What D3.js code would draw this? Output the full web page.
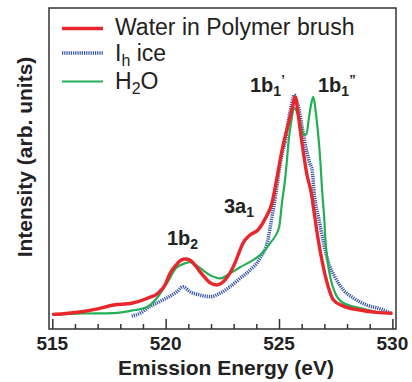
<!DOCTYPE html>
<html>
<head>
<meta charset="utf-8">
<script src="https://cdn.jsdelivr.net/npm/d3@7"></script>
<style>
  body { margin: 0; background: #fff; }
  svg { display: block; font-family: "Liberation Sans", Arial, sans-serif; }
</style>
</head>
<body>
<svg class="graph" width="412" height="382"></svg>
<script>
//======
// Data
//======

var xTicks = [515, 516, 517, 518, 519, 520, 521, 522, 523, 524, 525, 526, 527, 528, 529, 530];
var xTickLabels = [515, 520, 525, 530];

var brushEnergy = [515.0, 515.5, 516.3, 517.0, 517.7, 518.5, 519.2, 519.66, 519.97, 520.19, 520.46, 520.63, 520.85, 521.07, 521.3, 521.51, 521.75, 521.96, 522.25, 522.45, 522.62, 522.85, 523.06, 523.25, 523.41, 523.72, 524.07, 524.38, 524.69, 524.92, 525.05, 525.2, 525.41, 525.6, 525.71, 525.85, 526.0, 526.22, 526.44, 526.51, 526.73, 526.95, 527.17, 527.4, 527.84, 528.57, 529.31, 530.0];
var brushIntensity = [0.003, 0.006, 0.015, 0.028, 0.046, 0.054, 0.077, 0.10, 0.138, 0.19, 0.229, 0.248, 0.257, 0.252, 0.228, 0.199, 0.17, 0.148, 0.138, 0.145, 0.161, 0.195, 0.239, 0.29, 0.329, 0.367, 0.39, 0.44, 0.514, 0.635, 0.711, 0.787, 0.876, 0.955, 1.0, 0.917, 0.80, 0.65, 0.55, 0.50, 0.344, 0.222, 0.13, 0.069, 0.041, 0.023, 0.012, 0.008];

var iceEnergy = [518.5, 518.9, 519.2, 519.7, 520.2, 520.5, 520.77, 521.07, 521.51, 521.96, 522.4, 522.84, 523.28, 523.72, 524.16, 524.5, 524.69, 524.84, 524.99, 525.14, 525.29, 525.38, 525.5, 525.62, 525.67, 525.77, 525.87, 526.02, 526.24, 526.35, 526.46, 526.56, 526.75, 526.97, 527.17, 527.47, 527.84, 528.28, 528.87, 529.46, 529.9];
var iceIntensity = [-0.005, 0.01, 0.032, 0.06, 0.087, 0.107, 0.13, 0.107, 0.092, 0.084, 0.10, 0.13, 0.168, 0.206, 0.26, 0.34, 0.45, 0.541, 0.651, 0.743, 0.803, 0.87, 0.94, 0.995, 1.01, 0.986, 0.95, 0.862, 0.743, 0.697, 0.665, 0.55, 0.445, 0.33, 0.243, 0.174, 0.115, 0.078, 0.046, 0.028, 0.009];

var waterEnergy = [515.0, 516.3, 517.7, 518.5, 519.2, 519.66, 520.1, 520.46, 520.85, 521.07, 521.51, 521.96, 522.4, 522.84, 523.28, 523.72, 524.16, 524.65, 525.0, 525.13, 525.28, 525.35, 525.43, 525.55, 525.66, 525.75, 525.88, 526.01, 526.1, 526.21, 526.32, 526.41, 526.51, 526.61, 526.73, 526.82, 526.9, 527.0, 527.04, 527.12, 527.26, 527.48, 527.84, 528.57, 529.31, 530.0];
var waterIntensity = [0.002, 0.007, 0.009, 0.02, 0.038, 0.084, 0.153, 0.216, 0.237, 0.243, 0.216, 0.183, 0.168, 0.191, 0.219, 0.244, 0.275, 0.335, 0.40, 0.514, 0.634, 0.711, 0.803, 0.894, 0.95, 0.94, 0.904, 0.849, 0.826, 0.83, 0.904, 0.963, 1.0, 0.94, 0.826, 0.711, 0.573, 0.436, 0.358, 0.266, 0.174, 0.10, 0.055, 0.032, 0.014, 0.008];

var seriesNames = ["Water in Polymer brush", "I_h ice", "H_2O"];

//=======
// Chart
//=======

var svg = d3.select(".graph");

var x = d3.scaleLinear().domain([514.855, 530.16]).range([49, 396]);
var y = d3.scaleLinear().domain([-0.064, 1.408]).range([329, 8]);

function zip(xs, ys) {
  return xs.map(function (e, i) { return [e, ys[i]]; });
}

var line = d3.line()
  .x(function (d) { return x(d[0]); })
  .y(function (d) { return y(d[1]); })
  .curve(d3.curveMonotoneX);

var plot = svg.append("g");

plot.append("path")
  .datum(zip(iceEnergy, iceIntensity))
  .attr("d", line)
  .attr("fill", "none")
  .attr("stroke", "#3453a8")
  .attr("stroke-width", 3.5)
  .attr("stroke-dasharray", "1.2,1");

plot.append("path")
  .datum(zip(waterEnergy, waterIntensity))
  .attr("d", line)
  .attr("fill", "none")
  .attr("stroke", "#24ae55")
  .attr("stroke-width", 2.2);

plot.append("path")
  .datum(zip(brushEnergy, brushIntensity))
  .attr("d", line)
  .attr("fill", "none")
  .attr("stroke", "#e8262c")
  .attr("stroke-width", 3.4)
  .attr("stroke-linejoin", "round");

// frame
svg.append("rect")
  .attr("x", x.range()[0])
  .attr("y", y.range()[1])
  .attr("width", x.range()[1] - x.range()[0])
  .attr("height", y.range()[0] - y.range()[1])
  .attr("fill", "none")
  .attr("stroke", "#333")
  .attr("stroke-width", 1.5);

// inside ticks on the bottom axis
var xAxis = svg.append("g")
  .attr("transform", "translate(0," + y.range()[0] + ")")
  .call(d3.axisBottom(x)
    .tickValues(xTicks)
    .tickSizeInner(0)
    .tickSizeOuter(0)
    .tickFormat(""));
xAxis.select(".domain").remove();
xAxis.selectAll(".tick line")
  .attr("y2", function (d) { return d % 5 === 0 ? -10 : -5; })
  .attr("stroke", "#333")
  .attr("stroke-width", 1.5);

svg.append("g").selectAll("text")
  .data(xTickLabels)
  .enter().append("text")
  .attr("x", function (d) { return x(d); })
  .attr("y", 350)
  .attr("text-anchor", "middle")
  .attr("font-size", 19)
  .attr("font-weight", "bold")
  .attr("fill", "#222")
  .text(function (d) { return d; });

svg.append("text")
  .attr("x", 226)
  .attr("y", 375)
  .attr("text-anchor", "middle")
  .attr("font-size", 21)
  .attr("font-weight", "bold")
  .attr("fill", "#222")
  .text("Emission Energy (eV)");

svg.append("text")
  .attr("transform", "translate(32,157) rotate(-90)")
  .attr("text-anchor", "middle")
  .attr("font-size", 21)
  .attr("font-weight", "bold")
  .attr("fill", "#222")
  .text("Intensity (arb. units)");

//========
// Legend
//========

var legend = svg.append("g");
var rows = [
  { y: 28.5, color: "#e8262c", width: 3.4, dash: null },
  { y: 53, color: "#3453a8", width: 3.5, dash: "1.2,1" },
  { y: 81.5, color: "#24ae55", width: 2.2, dash: null }
];
var baselines = [35, 61, 89];

rows.forEach(function (r, i) {
  legend.append("line")
    .attr("x1", 62).attr("x2", 103)
    .attr("y1", r.y).attr("y2", r.y)
    .attr("stroke", r.color)
    .attr("stroke-width", r.width)
    .attr("stroke-dasharray", r.dash);

  var parts = seriesNames[i].split("_");
  var t = legend.append("text")
    .attr("x", 115)
    .attr("y", baselines[i])
    .attr("font-size", 23)
    .attr("fill", "#222");
  if (parts.length === 1) {
    t.text(parts[0]);
  } else {
    t.append("tspan").text(parts[0]);
    t.append("tspan").attr("dy", 5).attr("font-size", 16).text(parts[1].charAt(0));
    t.append("tspan").attr("dy", -5).text(parts[1].slice(1));
  }
});

//=============
// Peak labels
//=============

var peaks = [
  { x: 250, y: 92, main: "1b", sub: "1", tail: "\u2019" },
  { x: 318, y: 92, main: "1b", sub: "1", tail: "\u201D" },
  { x: 224, y: 213, main: "3a", sub: "1", tail: "" },
  { x: 167, y: 245, main: "1b", sub: "2", tail: "" }
];

peaks.forEach(function (p) {
  var t = svg.append("text")
    .attr("x", p.x)
    .attr("y", p.y)
    .attr("font-size", 20)
    .attr("font-weight", "bold")
    .attr("fill", "#222");
  t.append("tspan").text(p.main);
  t.append("tspan").attr("dy", 4).attr("font-size", 14).text(p.sub);
  if (p.tail) {
    t.append("tspan").attr("dy", -12).attr("font-size", 13).text(p.tail);
  }
});
</script>
</body>
</html>
